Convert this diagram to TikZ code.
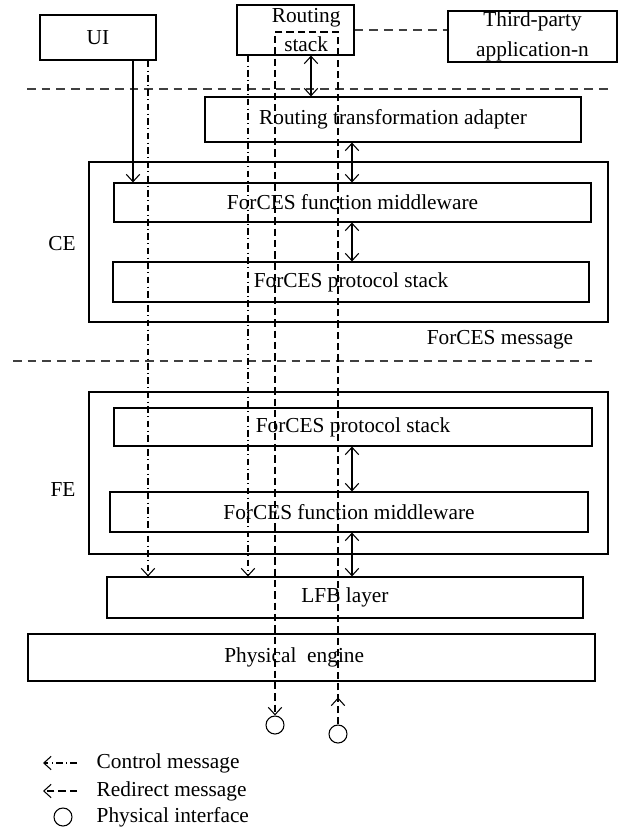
\documentclass[tikz,border=0pt]{standalone}
\usepackage{fontspec}
\setmainfont{Liberation Serif}
\usetikzlibrary{arrows.meta}

\tikzset{
  box/.style={draw, line width=0.8pt, inner sep=0pt},
  sz/.style 2 args={minimum width=#1*0.75pt, minimum height=#2*0.75pt},
  port/.style={draw, circle, line width=0.8pt, inner sep=0pt, minimum size=13.5pt},
  ctrl/.style={line width=0.8pt, dash pattern=on 5pt off 2.5pt on 0.8pt off 2.5pt},
  redir/.style={line width=0.8pt, dash pattern=on 5.5pt off 3pt},
  sep/.style={line width=0.9pt, black!75, dash pattern=on 6.5pt off 4.5pt},
  link/.style={line width=0.8pt}
}

\begin{document}
\begin{tikzpicture}[x=0.75pt, y=-0.75pt, >={Straight Barb[length=5.5pt,width=10pt]},
    font=\fontsize{16}{22}\selectfont]
  \useasboundingbox (0,0) rectangle (622,829);

  % applications
  \node[box, sz={116}{45}] (ui) at (98,37.5) {UI};
  \node[box, sz={117}{50},
    label={[name=rstxt, align=center, xshift=8pt]center:Routing\\stack}] (rs) at (295.5,30) {};
  \node[box, sz={169}{51}, align=center] (tp) at (532.5,36.5) {Third-party\\application-n};
  \node[box, sz={376}{45}] (adp) at (393,119.5) {Routing transformation adapter};

  % control element
  \node[box, sz={519}{160}] (ce) at (348.5,242) {};
  \node[box, sz={477}{39}] (cffm) at (352.5,202.5) {ForCES function middleware};
  \node[box, sz={476}{40}] (cfps) at (351,282) {ForCES protocol stack};
  \node (celbl) at (62,244) {CE};
  \node (msg) at (500,340) {ForCES message};

  % forwarding element
  \node[box, sz={519}{162}] (fe) at (348.5,473) {};
  \node[box, sz={478}{38}] (ffps) at (353,427) {ForCES protocol stack};
  \node[box, sz={478}{40}] (fffm) at (349,512) {ForCES function middleware};
  \node (felbl) at (63,490) {FE};

  \node[box, sz={476}{41}] (lfb) at (345,597.5) {LFB layer};
  \node[box, sz={567}{47},
    label={[name=petxt, xshift=-13pt]center:Physical\ \ engine}] (pe) at (311.5,657.5) {};

  \node[port] (pi1) at (275,725) {};
  \node[port] (pi2) at (338,734) {};

  % separators
  \draw[sep] (27,89) -- (608,89);
  \draw[sep] (13,361) -- (592,361);
  \draw[sep] (rs.east) -- (rs.east -| tp.west);

  % x positions of the vertical lines
  \coordinate (uix) at (133,0);
  \coordinate (ctla) at (148,0);
  \coordinate (ctlb) at (248,0);
  \coordinate (stkx) at (311,0);
  \coordinate (midx) at (352,0);
  \coordinate (rdtop) at (0,32);

  \draw[link,->] (ui.south -| uix) -- (cffm.north -| uix);
  \draw[link,<->] (rs.south -| stkx) -- (adp.north -| stkx);
  \draw[link,<->] (adp.south -| midx) -- (cffm.north -| midx);
  \draw[link,<->] (cffm.south -| midx) -- (cfps.north -| midx);
  \draw[link,<->] (ffps.south -| midx) -- (fffm.north -| midx);
  \draw[link,<->] (fffm.south -| midx) -- (lfb.north -| midx);

  % control messages
  \draw[ctrl,->] (ui.south -| ctla) -- (lfb.north -| ctla);
  \draw[ctrl,->] (rs.south -| ctlb) -- (lfb.north -| ctlb);

  % redirect messages
  \draw[redir,->] (pi2.north) -- (pi2.north |- rdtop) -- (pi1.north |- rdtop) -- (pi1.north);
  \draw[redir,->] (pi2.north) -- ++(0,-27);

  % legend
  \node[anchor=west] (lgc) at (92,763) {Control message};
  \node[anchor=west] (lgr) at (92,791) {Redirect message};
  \node[anchor=west] (lgp) at (92,817) {Physical interface};
  \node[port] (lgo) at (63,817) {};
  \draw[ctrl,->] (lgc.west) ++(-15,0) -- ++(-34,0);
  \draw[redir,->] (lgr.west) ++(-15,0) -- ++(-34,0);
\end{tikzpicture}
\end{document}
